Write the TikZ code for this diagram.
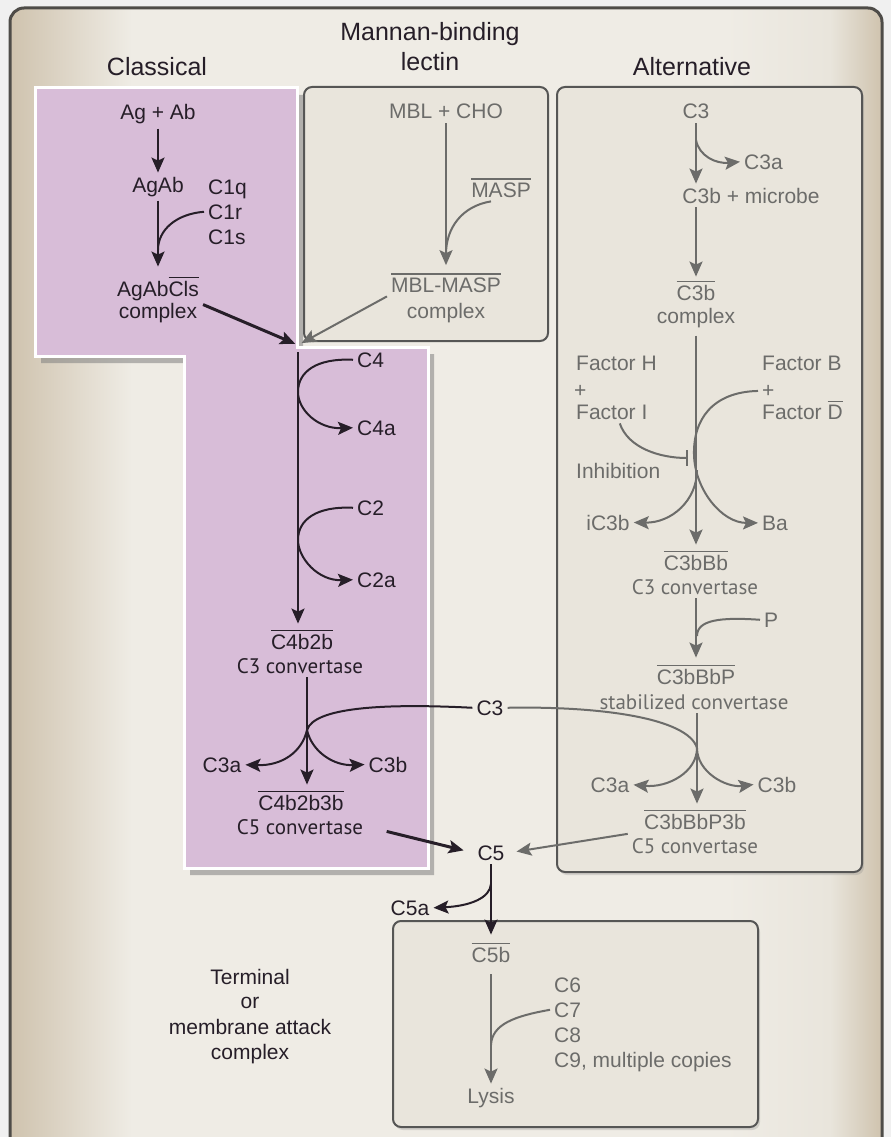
\documentclass[tikz,border=0pt]{standalone}
\usepackage{fontspec}
\setmainfont{Liberation Sans}
\newfontfamily\convfont{PT Sans}
\usetikzlibrary{arrows.meta,shadows}

\definecolor{ink}{RGB}{38,30,40}
\definecolor{grey}{RGB}{108,108,106}
\definecolor{lilac}{RGB}{216,189,216}
\definecolor{paper}{RGB}{233,229,220}
\definecolor{pale}{RGB}{239,236,229}
\definecolor{sand}{RGB}{207,195,174}
\definecolor{rim}{RGB}{78,76,72}

\pgfdeclarehorizontalshading{bgband}{100bp}{color(0bp)=(sand); color(25bp)=(sand); color(32bp)=(pale); color(66bp)=(pale); color(72bp)=(paper); color(75bp)=(sand); color(100bp)=(sand)}

\newcommand\olbar[1]{\vbox{\hrule height 1.5pt\kern 2.5pt\hbox{#1}}}

\tikzset{
  lbl/.style={font=\fontsize{21}{25}\selectfont, text=ink, inner sep=4pt, anchor=base},
  glbl/.style={lbl, text=grey},
  conv/.style={lbl, font=\fontsize{21}{25}\selectfont\convfont},
  gconv/.style={conv, text=grey},
  title/.style={font=\fontsize{25}{30}\selectfont, text=ink, anchor=base},
  line/.style={draw=ink, line width=2pt},
  gline/.style={draw=grey, line width=2pt},
  flow/.style={line, -{Stealth[length=15pt,width=13pt,inset=3pt]}},
  gflow/.style={gline, -{Stealth[length=15pt,width=13pt,inset=3pt]}},
  bigflow/.style={flow, line width=3pt},
  panel/.style={draw=grey!80!black, line width=2pt, fill=paper, rounded corners=8pt},
}

\begin{document}
\begin{tikzpicture}[x=1pt,y=-1pt]
\useasboundingbox (0,0) rectangle (891,1137);
\fill[black!6] (0,0) rectangle (891,1137);
\shadedraw[shading=bgband, draw=rim, line width=3pt, rounded corners=14pt] (10,8) rectangle (882,1170);

% boxes
\draw[panel] (304,87) rectangle (548,341);
\draw[panel, drop shadow={shadow xshift=2pt,shadow yshift=-3pt,opacity=.25}] (557,87) rectangle (862,872);
\draw[panel, drop shadow={shadow xshift=2pt,shadow yshift=-3pt,opacity=.25}] (393,921) rectangle (758,1127);
\path[fill=lilac, draw=white, line width=3pt, drop shadow={shadow xshift=6pt,shadow yshift=-7pt,opacity=.55}]
  (35,88) -- (297,88) -- (297,347) -- (428,347) -- (428,868) -- (184,868) -- (184,356) -- (35,356) -- cycle;

% titles
\node[title] (tclass) at (157,76) {Classical};
\node[title] (tmbl) at (430,41) {Mannan-binding};
\node[title] (tlec) at (430,71) {lectin};
\node[title] (talt) at (692,76) {Alternative};

% classical
\node[lbl] (agab0) at (158,120) {Ag + Ab};
\node[lbl] (agab) at (158,192) {AgAb};
\node[lbl, anchor=base west] (c1q) at (204,194) {C1q};
\node[lbl, anchor=base west] (c1r) at (204,219) {C1r};
\node[lbl, anchor=base west] (c1s) at (204,244) {C1s};
\node[lbl] (agabc) at (158,296) {AgAb\olbar{Cls}};
\node[lbl] (agabcx) at (158,318) {complex};
\coordinate (m1) at (158,250);
\coordinate (notch) at (298,345);
\draw[flow] (agab0) -- (agab);
\draw[flow, shorten >=6pt] (agab) -- (agabc);
\draw[line] (c1r.west) .. controls (176,214) and (158,230) .. (m1);
\draw[bigflow, shorten >=3pt] (agabc.south east) -- (notch);

% mannan-binding lectin
\node[glbl] (mbl0) at (446,119) {MBL + CHO};
\node[glbl] (masp) at (501,197) {\olbar{MASP}};
\node[glbl] (mblm) at (446,292) {\olbar{MBL-MASP}};
\node[glbl] (mblx) at (446,318) {complex};
\coordinate (m2) at (446,254);
\draw[gflow, shorten >=4pt] (mbl0) -- (mblm);
\draw[gline] ([xshift=-10pt]masp.south) .. controls (462,206) and (446,228) .. (m2);
\draw[gflow, shorten >=4pt] (mblm.south west) -- (notch);

% classical, lower part
\node[lbl, anchor=base west] (c4) at (353,367) {C4};
\node[lbl, anchor=base west] (c4a) at (353,435) {C4a};
\node[lbl, anchor=base west] (c2) at (353,515) {C2};
\node[lbl, anchor=base west] (c2a) at (353,587) {C2a};
\node[lbl] (c4b2b) at (302,649) {\olbar{C4b2b}};
\node[conv] (c3conv) at (300,673) {C3 convertase};
\coordinate (ctop) at (298,352);
\draw[flow, shorten >=2pt] (ctop) -- (ctop |- c4b2b.north);
\draw[flow] (c4.west) .. controls (316,358) and (298,372) .. (298,392) .. controls (298,410) and (318,429) .. (c4a.west);
\draw[flow] (c2.west) .. controls (316,506) and (298,520) .. (298,540) .. controls (298,558) and (318,581) .. (c2a.west);

\node[lbl] (c3) at (490,715) {C3};
\node[lbl] (c3a) at (222,772) {C3a};
\node[lbl] (c3b) at (388,772) {C3b};
\node[lbl] (c4b2b3b) at (301,810) {\olbar{C4b2b3b}};
\node[conv] (c5conv) at (300,834) {C5 convertase};
\coordinate (j3) at (307,730);
\draw[line] (j3 |- c3conv.south) -- (j3);
\draw[flow, shorten >=2pt] (j3) -- (j3 |- c4b2b3b.north);
\draw[line] (c3.west) .. controls (380,703) and (314,708) .. (j3);
\draw[flow] (j3) .. controls (302,752) and (282,766) .. (c3a.east);
\draw[flow] (j3) .. controls (312,752) and (334,766) .. (c3b.west);

% C5
\node[lbl] (c5) at (491,860) {C5};
\node[lbl] (c5a) at (410,915) {C5a};
\node[glbl] (c5b) at (491,962) {\olbar{C5b}};
\coordinate (j5) at (491,884);
\draw[bigflow, shorten <=20pt, shorten >=10pt] (c5conv.east) -- (c5.west);
\draw[flow, shorten >=4pt] (c5) -- (c5b);
\draw[flow] (j5) .. controls (490,898) and (470,906) .. (c5a.east);

% alternative
\node[glbl] (ac3) at (696,119) {C3};
\node[glbl, anchor=base west] (ac3a) at (740,169) {C3a};
\node[glbl] (c3bmic) at (751,203) {C3b + microbe};
\node[glbl] (ac3b) at (696,300) {\olbar{C3b}};
\node[glbl] (ac3bx) at (696,323) {complex};
\coordinate (ja) at (696,140);
\draw[gflow] (ac3) -- (ac3 |- c3bmic.north);
\draw[gflow] (ja) .. controls (699,156) and (716,164) .. (ac3a.west);
\draw[gflow] (ac3b |- c3bmic.south) -- (ac3b);

\node[glbl, anchor=base west] (fach) at (572,370) {Factor H};
\node[glbl, anchor=base west] (plush) at (570,397) {+};
\node[glbl, anchor=base west] (faci) at (572,419) {Factor I};
\node[glbl, anchor=base west] (inhib) at (572,478) {Inhibition};
\node[glbl, anchor=base west] (facb) at (758,370) {Factor B};
\node[glbl, anchor=base west] (plusb) at (758,397) {+};
\node[glbl, anchor=base west] (facd) at (758,419) {Factor \olbar{D}};
\node[glbl] (ic3b) at (608,530) {iC3b};
\node[glbl, anchor=base west] (ba) at (758,530) {Ba};
\node[glbl] (c3bbb) at (696,570) {\olbar{C3bBb}};
\node[gconv] (c3conv2) at (695,594) {C3 convertase};
\coordinate (inh) at (688,458);
\coordinate (ji) at (697,470);
\draw[gflow, shorten <=4pt, shorten >=2pt] (ac3bx) -- (c3bbb);
\draw[gline, -{Bar[width=16pt]}] ([xshift=8pt]faci.south) .. controls (628,448) and (660,458) .. (inh);
\draw[gflow] (plusb.west) .. controls (712,392) and (693,420) .. (694,455) .. controls (695,490) and (722,523) .. (ba.west);
\draw[gflow] (ji) .. controls (697,500) and (672,523) .. (ic3b.east);

\node[glbl, anchor=base west] (p) at (760,627) {P};
\node[glbl] (c3bbbp) at (696,684) {\olbar{C3bBbP}};
\node[gconv] (stab) at (694,709) {stabilized convertase};
\coordinate (jp) at (697,636);
\draw[gflow, shorten >=3pt] (c3conv2.south -| c3bbbp) -- (c3bbbp);
\draw[gline] (p.west) .. controls (720,617) and (697,620) .. (jp);

\node[glbl] (ac3a2) at (610,792) {C3a};
\node[glbl] (ac3b2) at (777,792) {C3b};
\node[glbl] (c3p3b) at (695,829) {\olbar{C3bBbP3b}};
\node[gconv] (c5conv2) at (695,853) {C5 convertase};
\coordinate (jd) at (697,748);
\draw[gline] (stab.south -| jd) -- (jd);
\draw[gflow, shorten >=2pt] (jd) -- (jd |- c3p3b.north);
\draw[gline] (c3.east) .. controls (600,706) and (688,718) .. (jd);
\draw[gflow] (jd) .. controls (697,772) and (668,788) .. (ac3a2.east);
\draw[gflow] (jd) .. controls (697,772) and (726,788) .. (ac3b2.west);
\draw[gflow, shorten >=8pt] (c5conv2.north west) -- (c5.east);

% terminal
\node[glbl, anchor=base west] (c6) at (550,992) {C6};
\node[glbl, anchor=base west] (c7) at (550,1017) {C7};
\node[glbl, anchor=base west] (c8) at (550,1042) {C8};
\node[glbl, anchor=base west] (c9) at (550,1067) {C9, multiple copies};
\node[glbl] (lysis) at (491,1103) {Lysis};
\coordinate (jt) at (491,1045);
\draw[gflow, shorten <=8pt] (c5b) -- (lysis);
\draw[gline] (c7.west) .. controls (515,1016) and (492,1024) .. (jt);

\node[lbl] (term1) at (250,984) {Terminal};
\node[lbl] (term2) at (250,1008) {or};
\node[lbl] (term3) at (250,1034) {membrane attack};
\node[lbl] (term4) at (250,1059) {complex};
\end{tikzpicture}
\end{document}
